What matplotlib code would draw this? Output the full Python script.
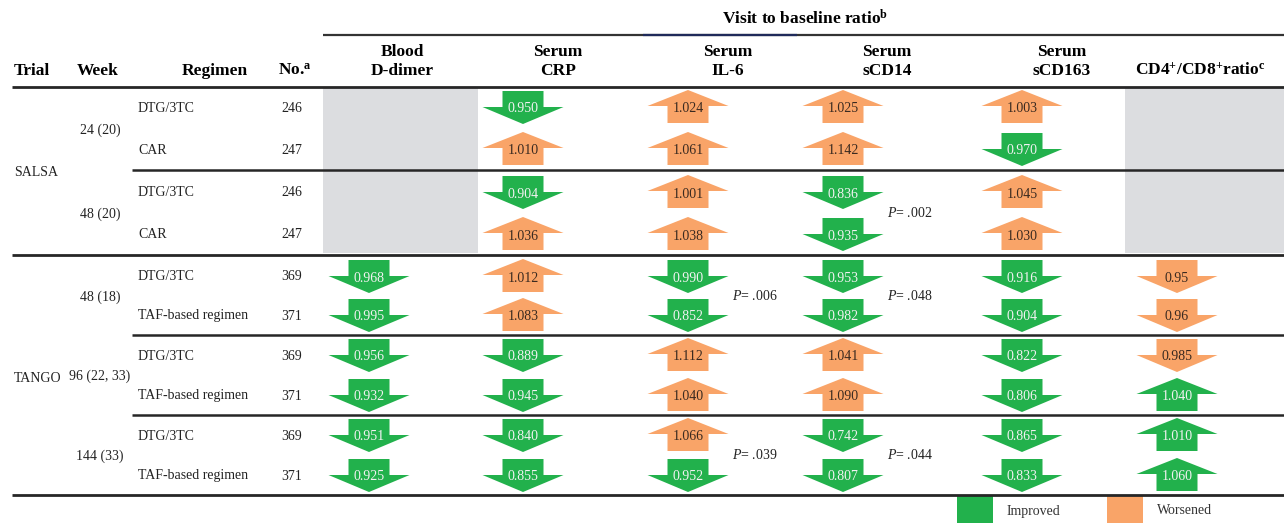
import matplotlib
matplotlib.use("Agg")
import matplotlib.pyplot as plt
from matplotlib.patches import Polygon, Rectangle

plt.rcParams['font.family'] = ['Liberation Serif', 'DejaVu Serif']
plt.rcParams['mathtext.fontset'] = 'custom'
plt.rcParams['mathtext.rm'] = 'Liberation Serif'
plt.rcParams['mathtext.it'] = 'Liberation Serif:italic'
plt.rcParams['mathtext.bf'] = 'Liberation Serif:bold'

# ---------------- data ----------------
trials = ["SALSA", "TANGO"]
weeks = ["24 (20)", "48 (20)", "48 (18)", "96 (22, 33)", "144 (33)"]
regimens = ["DTG/3TC", "CAR", "DTG/3TC", "CAR",
            "DTG/3TC", "TAF-based regimen", "DTG/3TC", "TAF-based regimen",
            "DTG/3TC", "TAF-based regimen"]
numbers = ["246", "247", "246", "247", "369", "371", "369", "371", "369", "371"]

col_titles = ["Blood\nD-dimer", "Serum\nCRP", "Serum\nIL-6", "Serum\nsCD14", "Serum\nsCD163",
              "CD4$^{\\mathbf{+}}$/CD8$^{\\mathbf{+}}$ratio$^{\\mathbf{c}}$"]

d_dimer = [None, None, None, None, "0.968", "0.995", "0.956", "0.932", "0.951", "0.925"]
crp = ["0.950", "1.010", "0.904", "1.036", "1.012", "1.083", "0.889", "0.945", "0.840", "0.855"]
il6 = ["1.024", "1.061", "1.001", "1.038", "0.990", "0.852", "1.112", "1.040", "1.066", "0.952"]
scd14 = ["1.025", "1.142", "0.836", "0.935", "0.953", "0.982", "1.041", "1.090", "0.742", "0.807"]
scd163 = ["1.003", "0.970", "1.045", "1.030", "0.916", "0.904", "0.822", "0.806", "0.865", "0.833"]
cd4cd8 = [None, None, None, None, "0.95", "0.96", "0.985", "1.040", "1.010", "1.060"]
columns = [d_dimer, crp, il6, scd14, scd163, cd4cd8]
higher_is_better = [False, False, False, False, False, True]

# p-values: (column index, week-group index, text)
p_values = [(3, 1, ".002"), (2, 2, ".006"), (3, 2, ".048"), (2, 4, ".039"), (3, 4, ".044")]

GREEN = "#22b14c"
ORANGE = "#f9a468"
GRAY = "#dcdde0"
LINE = "#262626"

# ---------------- layout ----------------
W, H = 1284, 523
fig = plt.figure(figsize=(W / 100, H / 100), dpi=100)
ax = fig.add_axes([0, 0, 1, 1])
ax.set_xlim(0, W)
ax.set_ylim(H, 0)
ax.axis('off')

row_y = [108, 150, 193, 235, 277, 316, 356, 396, 436, 476]
week_y = [130, 214, 297, 376, 456]
trial_y = [172, 378]
col_x = [369, 523, 688, 843, 1022, 1177]
title_x = [402, 558, 728, 887, 1062, 1200]

body_fs = 10
head_fs = 12.5
val_fs = 10

# gray shading for unavailable data
ax.add_patch(Rectangle((323, 88), 478 - 323, 253 - 88, color=GRAY, lw=0, zorder=0))
ax.add_patch(Rectangle((1125, 88), W - 1125, 253 - 88, color=GRAY, lw=0, zorder=0))

# rules
def hline(y, x0, x1, lw=1.8, color=LINE):
    ax.plot([x0, x1], [y, y], color=color, lw=lw, solid_capstyle='butt', zorder=3)

hline(34.5, 323, W, lw=1.6, color="#333333")
hline(34.5, 643, 797, lw=1.6, color="#1f2a5a")
hline(86.5, 12, W, lw=2.0)
hline(169.5, 132, W, lw=1.8)
hline(254.5, 12, W, lw=2.0)
hline(334.5, 132, W, lw=1.8)
hline(414.5, 132, W, lw=1.8)
hline(494.5, 12, W, lw=2.0)

# headers
ax.text(805, 19, "Visit to baseline ratio$^{\\mathbf{b}}$", ha='center', va='center',
        fontsize=head_fs, fontweight='bold')
ax.text(14, 71, "Trial", ha='left', va='center', fontsize=head_fs, fontweight='bold')
ax.text(77, 71, "Week", ha='left', va='center', fontsize=head_fs, fontweight='bold')
ax.text(248, 71, "Regimen", ha='right', va='center', fontsize=head_fs, fontweight='bold')
ax.text(278, 71, "No.$^{\\mathbf{a}}$", ha='left', va='center', fontsize=head_fs, fontweight='bold')
for i, t in enumerate(col_titles):
    if "\n" in t:
        a, b = t.split("\n")
        ax.text(title_x[i], 52, a, ha='center', va='center', fontsize=head_fs, fontweight='bold')
        ax.text(title_x[i], 71, b, ha='center', va='center', fontsize=head_fs, fontweight='bold')
    else:
        ax.text(title_x[i], 71, t, ha='center', va='center', fontsize=head_fs, fontweight='bold')

# left label columns
for t, y in zip(trials, trial_y):
    ax.text(14, y, t, ha='left', va='center', fontsize=body_fs, color="#222222")
for t, y in zip(weeks, week_y):
    ax.text(100, y, t, ha='center', va='center', fontsize=body_fs, color="#222222")
for t, y in zip(regimens, row_y):
    ax.text(138, y, t, ha='left', va='center', fontsize=body_fs, color="#222222")
for t, y in zip(numbers, row_y):
    ax.text(302, y, t, ha='right', va='center', fontsize=body_fs, color="#222222")

# arrows
HEAD_W, SHAFT_W = 81, 41

def arrow(cx, cy, up, color):
    hw, sw = HEAD_W / 2, SHAFT_W / 2
    if up:
        tip, base, bot = cy - 18, cy - 2, cy + 15
        pts = [(cx, tip), (cx + hw, base), (cx + sw, base), (cx + sw, bot),
               (cx - sw, bot), (cx - sw, base), (cx - hw, base)]
    else:
        top, base, tip = cy - 17, cy - 1, cy + 16
        pts = [(cx - sw, top), (cx + sw, top), (cx + sw, base), (cx + hw, base),
               (cx, tip), (cx - hw, base), (cx - sw, base)]
    ax.add_patch(Polygon(pts, closed=True, facecolor=color, edgecolor='none', zorder=2))

for ci, col in enumerate(columns):
    for ri, v in enumerate(col):
        if v is None:
            continue
        val = float(v)
        up = val >= 1.0
        improved = up if higher_is_better[ci] else not up
        color = GREEN if improved else ORANGE
        arrow(col_x[ci], row_y[ri], up, color)
        tc = "#f2f2f2" if improved else "#3a2a20"
        ax.text(col_x[ci], row_y[ri] + 1, v, ha='center', va='center',
                fontsize=val_fs, color=tc, zorder=4)

for ci, gi, p in p_values:
    ax.text(col_x[ci] + 44, week_y[gi] - 1, "$P$= " + p, ha='left', va='center',
            fontsize=body_fs, color="#222222")

# legend
ax.add_patch(Rectangle((957, 496), 36, H - 496, color=GREEN, lw=0))
ax.text(1007, 511, "Improved", ha='left', va='center', fontsize=body_fs, color="#333333")
ax.add_patch(Rectangle((1107, 496), 36, H - 496, color=ORANGE, lw=0))
ax.text(1157, 511, "Worsened", ha='left', va='center', fontsize=body_fs, color="#333333")

fig.savefig("out.png", dpi=100)
